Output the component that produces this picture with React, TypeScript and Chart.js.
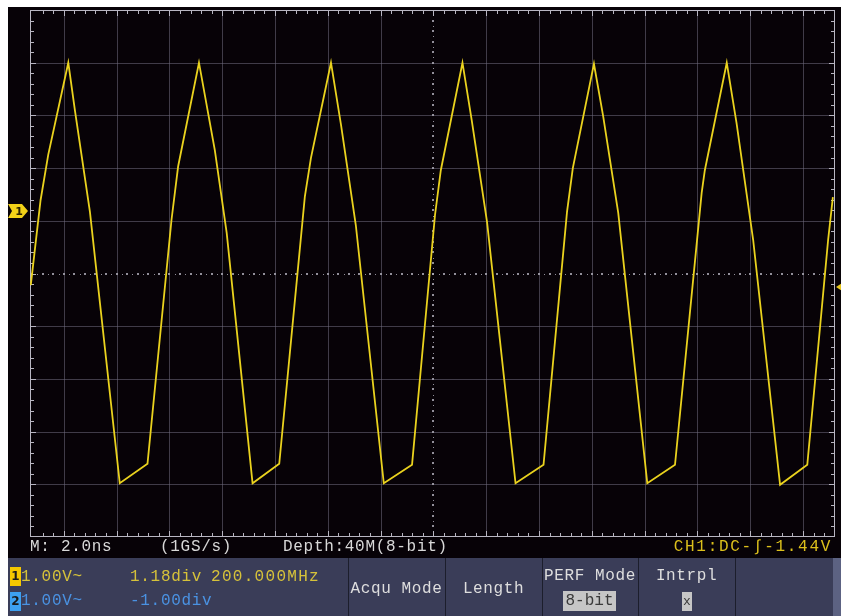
import React, { useEffect, useRef } from "react";
import { Chart, registerables } from "chart.js";

Chart.register(...registerables);

// CH1 trace vertices: time in ns (2.0 ns/div, 0 = screen centre), amplitude in divisions
const timeNs = [
  -15.25, -14.88, -14.59, -13.83, -13.58, -13.01, -11.88, -10.83, -9.92, -9.67, -8.88,
  -8.28, -7.83, -6.85, -5.84, -4.87, -4.64, -3.88,
  -3.5, -2.94, -1.88, -0.81, 0.06, 0.28, 1.1,
  1.45, 2.03, 3.11, 4.17, 5.06, 5.28, 6.08,
  6.43, 7.0, 8.1, 9.15, 10.16, 10.28, 11.11,
  11.48, 12.11, 13.13, 14.16, 14.95, 15.13,
];
const ch1Div = [
  -0.22, 1.39, 2.25, 4.0, 3.1, 1.17, -3.98, -3.61, 1.02, 2.03, 4.0,
  2.34, 0.77, -3.98, -3.61, 1.46, 2.19, 4.0,
  2.82, 0.92, -3.98, -3.63, 1.11, 1.96, 4.0,
  2.91, 0.98, -3.98, -3.63, 1.17, 2.0, 3.98,
  2.98, 1.15, -3.98, -3.63, 1.53, 1.96, 4.0,
  2.86, 0.64, -4.01, -3.63, 0.64, 1.45,
];

const gridTimesNs = [-14, -12, -10, -8, -6, -4, -2, 0, 2, 4, 6, 8, 10, 12, 14];
const gridDivs = [-4, -3, -2, -1, 0, 1, 2, 3, 4];
const ch1OffsetDiv = 1.18;
const triggerDiv = -0.26;

const statusTexts = ["M: 2.0ns", "(1GS/s)", "Depth:40M(8-bit)"];
const triggerText = "CH1:DC-\u222B-1.44V";
const ch1Texts = ["1.00V~", "1.18div", "200.000MHz"];
const ch2Texts = ["1.00V~", "-1.00div"];
const menuLabels = ["Acqu Mode", "Length", "PERF Mode", "Intrpl"];
const menuValues = ["8-bit", "x"];

const MONO = "'Liberation Mono', 'DejaVu Sans Mono', monospace";

const scopePlugin = {
  id: "scopeGrid",
  beforeDatasetsDraw(chart: any) {
    const { ctx, chartArea: a } = chart;
    const x = chart.scales.x;
    const y = chart.scales.y;
    ctx.save();
    ctx.lineWidth = 1;
    // solid grid
    ctx.strokeStyle = "rgba(112,108,126,0.55)";
    ctx.beginPath();
    gridTimesNs.forEach((t) => {
      if (t === 0) return;
      const px = Math.round(x.getPixelForValue(t)) + 0.5;
      ctx.moveTo(px, a.top);
      ctx.lineTo(px, a.bottom);
    });
    gridDivs.forEach((v) => {
      if (v === 0) return;
      const py = Math.round(y.getPixelForValue(v)) + 0.5;
      ctx.moveTo(a.left, py);
      ctx.lineTo(a.right, py);
    });
    ctx.stroke();

    // dotted centre lines with small marks
    const cx = Math.round(x.getPixelForValue(0)) + 0.5;
    const cy = Math.round(y.getPixelForValue(0)) + 0.5;
    ctx.fillStyle = "rgba(170,168,180,0.85)";
    for (let k = -40; k <= 40; k++) {
      const t = k * 0.4;
      const px = x.getPixelForValue(t);
      if (px < a.left + 2 || px > a.right - 2) continue;
      ctx.fillRect(Math.round(px) - 1, cy - 1.5, 2, 2);
      const ph = x.getPixelForValue(t + 0.2);
      if (ph < a.right - 2) ctx.fillRect(Math.round(ph), cy - 0.5, 1, 1);
    }
    for (let k = -25; k <= 25; k++) {
      const v = k * 0.2;
      const py = y.getPixelForValue(v);
      if (py < a.top + 2 || py > a.bottom - 2) continue;
      ctx.fillRect(cx - 1.5, Math.round(py) - 1, 2, 2);
      const ph = y.getPixelForValue(v + 0.1);
      if (ph > a.top + 2) ctx.fillRect(cx - 0.5, Math.round(ph), 1, 1);
    }

    // border
    ctx.strokeStyle = "#b8b6c2";
    ctx.strokeRect(a.left + 0.5, a.top + 0.5, a.right - a.left - 1, a.bottom - a.top - 1);
    // border ticks
    ctx.beginPath();
    for (let k = -40; k <= 40; k++) {
      const t = k * 0.4;
      const px = x.getPixelForValue(t);
      if (px < a.left + 3 || px > a.right - 3) continue;
      const len = k % 5 === 0 ? 6 : 4;
      const rx = Math.round(px) + 0.5;
      ctx.moveTo(rx, a.top);
      ctx.lineTo(rx, a.top + len);
      ctx.moveTo(rx, a.bottom);
      ctx.lineTo(rx, a.bottom - len);
    }
    for (let k = -25; k <= 25; k++) {
      const v = k * 0.2;
      const py = y.getPixelForValue(v);
      if (py < a.top + 3 || py > a.bottom - 3) continue;
      const len = k % 5 === 0 ? 6 : 4;
      const ry = Math.round(py) + 0.5;
      ctx.moveTo(a.left, ry);
      ctx.lineTo(a.left + len, ry);
      ctx.moveTo(a.right, ry);
      ctx.lineTo(a.right - len, ry);
    }
    ctx.stroke();
    ctx.restore();
  },
  afterDraw(chart: any) {
    const { ctx, chartArea: a } = chart;
    const y = chart.scales.y;
    ctx.save();
    // CH1 ground marker
    const yc = Math.round(y.getPixelForValue(ch1OffsetDiv));
    ctx.fillStyle = "#f2d118";
    ctx.beginPath();
    ctx.moveTo(0, yc - 7);
    ctx.lineTo(14, yc - 7);
    ctx.lineTo(20, yc);
    ctx.lineTo(14, yc + 7);
    ctx.lineTo(0, yc + 7);
    ctx.lineTo(4, yc);
    ctx.closePath();
    ctx.fill();
    ctx.fillStyle = "#2a2200";
    ctx.font = "bold 11px 'DejaVu Sans', sans-serif";
    ctx.textAlign = "center";
    ctx.textBaseline = "middle";
    ctx.fillText("1", 11, yc + 1);
    // trigger level marker
    const yt = Math.round(y.getPixelForValue(triggerDiv));
    ctx.fillStyle = "#e8c81e";
    ctx.beginPath();
    ctx.moveTo(a.right + 1, yt);
    ctx.lineTo(a.right + 7, yt - 4);
    ctx.lineTo(a.right + 7, yt + 4);
    ctx.closePath();
    ctx.fill();
    ctx.restore();
  },
};

export default function App() {
  const canvasRef = useRef<HTMLCanvasElement | null>(null);

  useEffect(() => {
    const canvas = canvasRef.current;
    if (!canvas) return;
    const chart = new Chart(canvas, {
      type: "line",
      data: {
        datasets: [
          {
            data: timeNs.map((t, i) => ({ x: t, y: ch1Div[i] })),
            borderColor: "#ead21e",
            borderWidth: 1.8,
            pointRadius: 0,
            tension: 0,
            fill: false,
          },
        ],
      },
      options: {
        animation: false,
        responsive: false,
        devicePixelRatio: 1,
        layout: { padding: { left: 22, top: 3, right: 6, bottom: 11 } },
        plugins: { legend: { display: false }, tooltip: { enabled: false } },
        events: [],
        scales: {
          x: { type: "linear", min: -15.28, max: 15.21, display: false },
          y: { type: "linear", min: -5, max: 5, display: false },
        },
      },
      plugins: [scopePlugin],
    });
    return () => chart.destroy();
  }, []);

  const txt = (s: string, left: number, top: number, color: string, extra: any = {}) => (
    <div
      key={s + left + top}
      style={{
        position: "absolute",
        left,
        top,
        height: 18,
        lineHeight: "18px",
        fontFamily: MONO,
        fontSize: 16,
        letterSpacing: 0.7,
        color,
        whiteSpace: "pre",
        ...extra,
      }}
    >
      {s}
    </div>
  );

  const badge = (label: string, top: number, bg: string) => (
    <div
      style={{
        position: "absolute",
        left: 2,
        top,
        width: 11,
        height: 19,
        background: bg,
        color: "#1a1a1a",
        fontFamily: "'DejaVu Sans', sans-serif",
        fontWeight: "bold",
        fontSize: 12,
        lineHeight: "19px",
        textAlign: "center",
      }}
    >
      {label}
    </div>
  );

  const sepXs = [340, 437, 534, 630, 727];
  const centered = (s: string, l: number, r: number, top: number, color: string) => (
    <div
      key={s + top}
      style={{
        position: "absolute",
        left: l,
        width: r - l,
        top,
        height: 18,
        lineHeight: "18px",
        textAlign: "center",
        fontFamily: MONO,
        fontSize: 16,
        letterSpacing: 0.6,
        color,
        whiteSpace: "pre",
      }}
    >
      {s}
    </div>
  );

  return (
    <div
      style={{
        position: "fixed",
        left: 8,
        top: 7,
        width: 833,
        height: 609,
        background: "#070207",
        overflow: "hidden",
      }}
    >
      <canvas ref={canvasRef} width={833} height={541} style={{ position: "absolute", left: 0, top: 0, width: 833, height: 541 }} />
      {txt(statusTexts[0], 22, 531, "#d8d8d8")}
      {txt(statusTexts[1], 152, 531, "#d8d8d8")}
      {txt(statusTexts[2], 275, 531, "#d8d8d8")}
      {txt(triggerText, 0, 531, "#dcc01c", { left: "auto", right: 9, letterSpacing: 1.7 })}
      <div
        style={{
          position: "absolute",
          left: 0,
          top: 551,
          width: 833,
          height: 58,
          background: "#3a3d58",
        }}
      >
        {badge("1", 9, "#f5c800")}
        {badge("2", 34, "#3da0f0")}
        {txt(ch1Texts[0], 13, 10, "#d6c23a")}
        {txt(ch1Texts[1], 122, 10, "#d6c23a")}
        {txt(ch1Texts[2], 203, 10, "#d6c23a", { letterSpacing: 1.3 })}
        {txt(ch2Texts[0], 13, 34, "#4a92e2")}
        {txt(ch2Texts[1], 122, 34, "#4a92e2")}
        {sepXs.map((sx) => (
          <div key={sx} style={{ position: "absolute", left: sx, top: 0, width: 1, height: 58, background: "#1c1e2c" }} />
        ))}
        <div style={{ position: "absolute", left: 825, top: 0, width: 8, height: 58, background: "#5c6282" }} />
        {centered(menuLabels[0], 340, 437, 22, "#dedede")}
        {centered(menuLabels[1], 437, 534, 22, "#dedede")}
        {centered(menuLabels[2], 534, 630, 9, "#dedede")}
        {centered(menuLabels[3], 630, 727, 9, "#dedede")}
        <div
          style={{
            position: "absolute",
            left: 555,
            top: 33,
            width: 53,
            height: 20,
            background: "#c6c6c6",
            color: "#3a3a3a",
            fontFamily: MONO,
            fontSize: 16,
            lineHeight: "20px",
            textAlign: "center",
          }}
        >
          {menuValues[0]}
        </div>
        <div
          style={{
            position: "absolute",
            left: 674,
            top: 34,
            width: 10,
            height: 19,
            background: "#c6c6c6",
            color: "#3a3a3a",
            fontFamily: MONO,
            fontSize: 13,
            lineHeight: "19px",
            textAlign: "center",
          }}
        >
          {menuValues[1]}
        </div>
      </div>
    </div>
  );
}
